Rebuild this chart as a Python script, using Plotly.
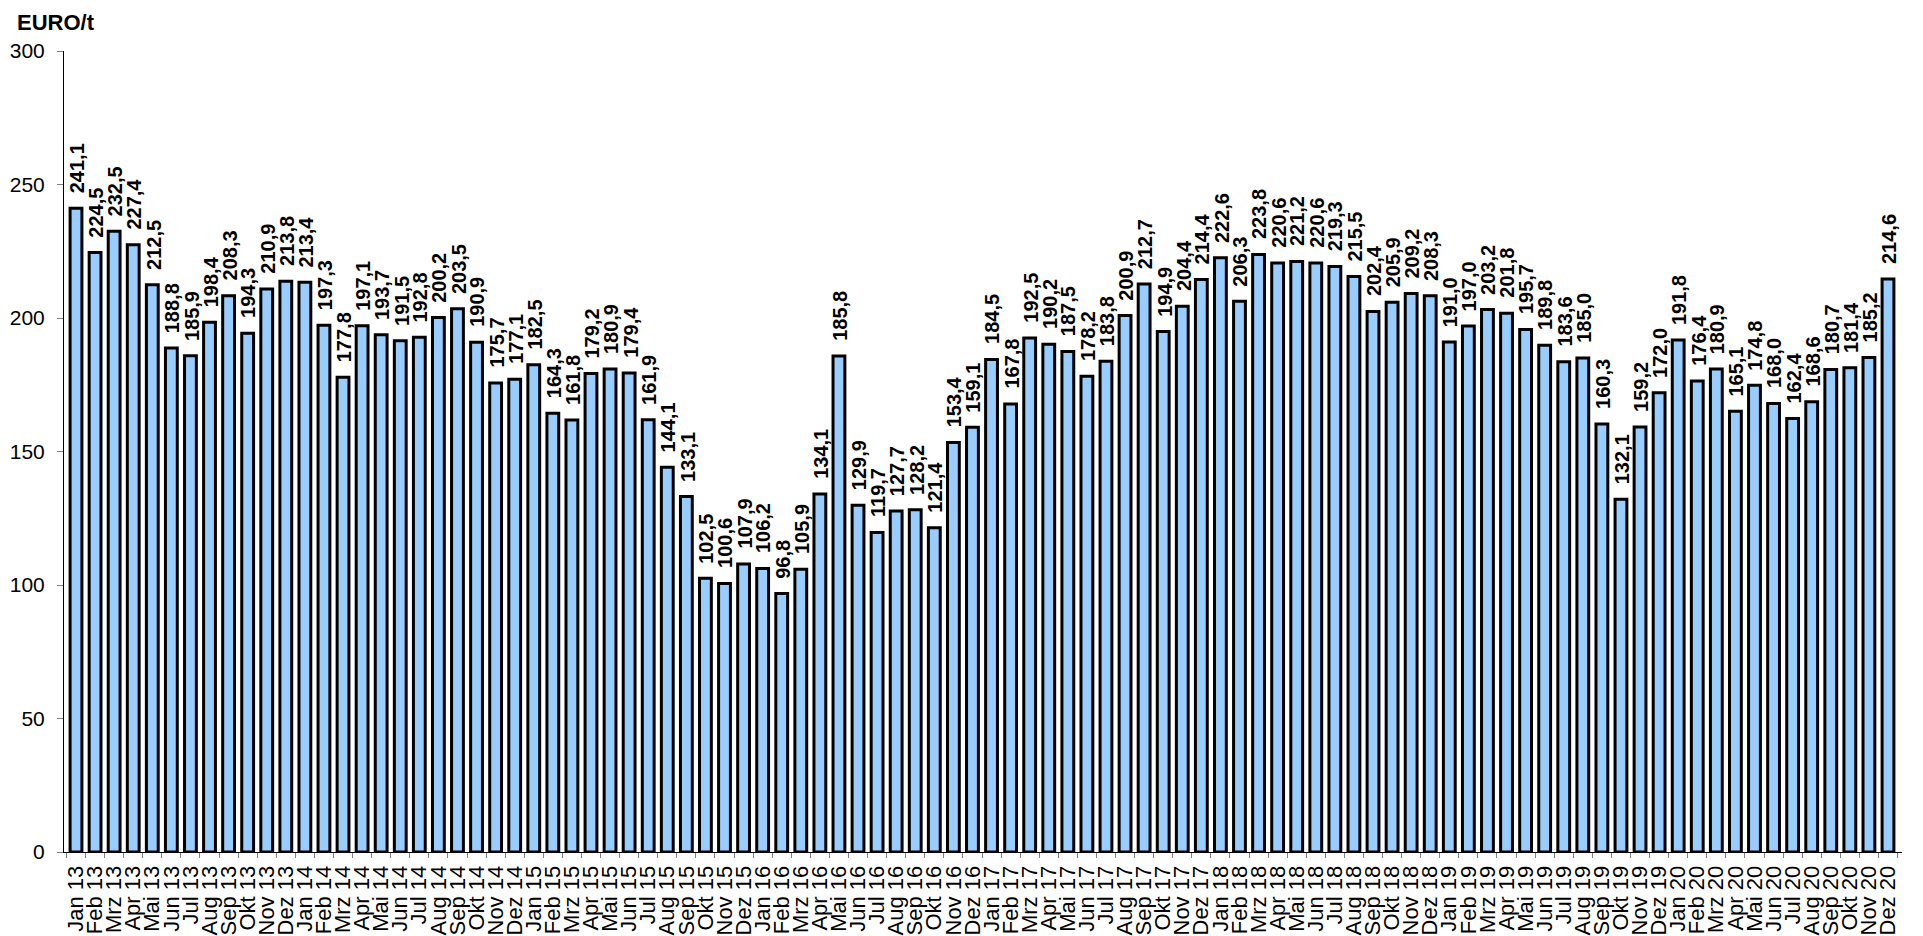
import plotly.graph_objects as go

months = ["Jan", "Feb", "Mrz", "Apr", "Mai", "Jun", "Jul", "Aug", "Sep", "Okt", "Nov", "Dez"]
years = ["13", "14", "15", "16", "17", "18", "19", "20"]
categories = [f"{m} {y}" for y in years for m in months]

v2013 = [241.1, 224.5, 232.5, 227.4, 212.5, 188.8, 185.9, 198.4, 208.3, 194.3, 210.9, 213.8]
v2014 = [213.4, 197.3, 177.8, 197.1, 193.7, 191.5, 192.8, 200.2, 203.5, 190.9, 175.7, 177.1]
v2015 = [182.5, 164.3, 161.8, 179.2, 180.9, 179.4, 161.9, 144.1, 133.1, 102.5, 100.6, 107.9]
v2016 = [106.2, 96.8, 105.9, 134.1, 185.8, 129.9, 119.7, 127.7, 128.2, 121.4, 153.4, 159.1]
v2017 = [184.5, 167.8, 192.5, 190.2, 187.5, 178.2, 183.8, 200.9, 212.7, 194.9, 204.4, 214.4]
v2018 = [222.6, 206.3, 223.8, 220.6, 221.2, 220.6, 219.3, 215.5, 202.4, 205.9, 209.2, 208.3]
v2019 = [191.0, 197.0, 203.2, 201.8, 195.7, 189.8, 183.6, 185.0, 160.3, 132.1, 159.2, 172.0]
v2020 = [191.8, 176.4, 180.9, 165.1, 174.8, 168.0, 162.4, 168.6, 180.7, 181.4, 185.2, 214.6]

values = v2013 + v2014 + v2015 + v2016 + v2017 + v2018 + v2019 + v2020
labels = [f"{v:.1f}".replace(".", ",") for v in values]

FONT = "Liberation Sans, Arial"

fig = go.Figure(go.Bar(
    x=categories,
    y=values,
    marker=dict(color="#99CCFF", line=dict(color="black", width=3)),
    hoverinfo="x+y",
))

annotations = [
    dict(x=c, y=v, xref="x", yref="y", text=f"<b>{t}</b>", textangle=-90,
         xanchor="center", yanchor="bottom", yshift=13, xshift=1, showarrow=False,
         font=dict(family=FONT, size=20, color="black"))
    for c, v, t in zip(categories, values, labels)
]
annotations.append(dict(text="<b>EURO/t</b>", x=0, y=1, xref="paper", yref="paper",
                        xanchor="left", yanchor="bottom", xshift=-48, yshift=15,
                        borderpad=0, showarrow=False,
                        font=dict(family=FONT, size=22, color="black")))

fig.update_layout(
    width=1923, height=936,
    margin=dict(l=56, r=29, t=43, b=92, autoexpand=False),
    paper_bgcolor="white", plot_bgcolor="white",
    bargap=0.38,
    showlegend=False,
    font=dict(family=FONT, color="black"),
    annotations=annotations,
)
fig.update_xaxes(
    type="category", tickangle=-90, tickson="boundaries", tickmode="linear", dtick=1,
    ticks="outside", ticklen=5, tickcolor="#808080", automargin=False,
    showline=True, linecolor="black", linewidth=1, ticklabelstandoff=4,
    tickfont=dict(size=22, color="black"), showgrid=False,
)
fig.update_yaxes(
    range=[0, 300], dtick=50, ticks="outside", ticklen=6, tickcolor="#808080",
    showline=True, linecolor="black", linewidth=1, showgrid=False, zeroline=False,
    automargin=False, ticklabelstandoff=8,
    tickfont=dict(size=21, color="black"),
)

fig.write_html("out.html")
